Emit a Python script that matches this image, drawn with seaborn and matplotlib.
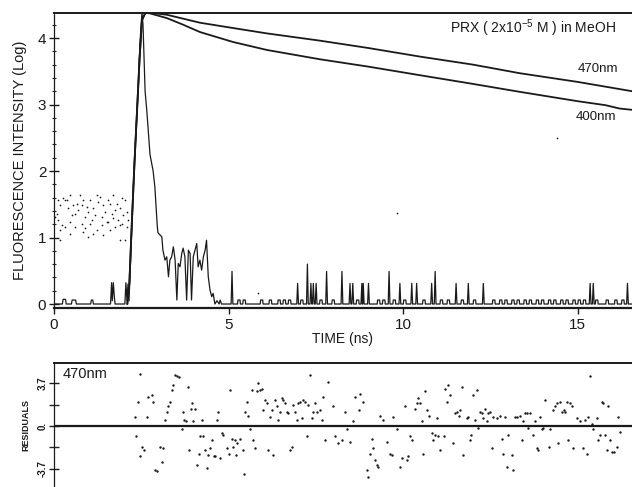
import numpy as np
import pandas as pd
import matplotlib
matplotlib.use("Agg")
import matplotlib.pyplot as plt
from matplotlib.ticker import MultipleLocator, FixedLocator
import seaborn as sns

# decay curves (log intensity vs time in ns)
t_470 = [2.10, 2.16, 2.23, 2.31, 2.45, 2.52, 2.62, 2.75, 3.23, 4.18, 5.13, 6.09, 7.62, 9.00,
         10.49, 12.00, 13.35, 15.00, 16.56]
i_470 = [0.00, 0.32, 1.22, 2.17, 3.67, 4.27, 4.38, 4.38, 4.35, 4.23, 4.15, 4.07, 3.96, 3.85,
         3.72, 3.60, 3.47, 3.34, 3.20]
t_400 = [2.10, 2.16, 2.23, 2.31, 2.45, 2.52, 2.62, 2.75, 3.23, 3.70, 4.18, 5.13, 6.10, 7.62,
         9.00, 10.49, 12.00, 13.35, 15.00, 15.80, 16.20, 16.56]
i_400 = [0.00, 0.32, 1.22, 2.17, 3.67, 4.27, 4.38, 4.37, 4.30, 4.20, 4.09, 3.94, 3.82, 3.68,
         3.57, 3.44, 3.31, 3.19, 3.05, 2.99, 2.94, 2.92]

# instrument response (pulse + noise)
irf_t = [0.0, 0.24, 0.26, 0.33, 0.35, 0.50, 0.52, 0.62, 0.64, 1.05, 1.07, 1.11, 1.13,
         1.62, 1.65, 1.67, 1.70, 1.73, 1.75, 2.03, 2.06, 2.09, 2.12, 2.15, 2.21, 2.26,
         2.32, 2.41, 2.46, 2.52, 2.55, 2.61, 2.66, 2.75, 2.84, 2.89, 2.96, 2.98, 3.09,
         3.12, 3.18, 3.23, 3.28, 3.32, 3.37, 3.42, 3.47, 3.52, 3.56, 3.61, 3.66, 3.70,
         3.75, 3.80, 3.85, 3.90, 3.94, 3.99, 4.04, 4.09, 4.13, 4.18, 4.23, 4.28, 4.33,
         4.37, 4.42, 4.47, 4.52, 4.56, 4.61, 4.67, 4.73, 4.76, 4.80]
irf_i = [0, 0, 0.07, 0.07, 0, 0, 0.06, 0.06, 0, 0, 0.06, 0.06, 0,
         0, 0.32, 0.05, 0.32, 0.1, 0, 0, 0.32, 0.05, 0.3, 0.05, 0.9, 1.6,
         2.3, 3.2, 3.9, 4.38, 4.2, 3.2, 2.9, 2.25, 2.0, 1.76, 1.16, 1.07, 1.01,
         0.81, 0.66, 0.71, 0.41, 0.66, 0.71, 0.86, 0.66, 0.06, 0.61, 0.56, 0.76, 0.84,
         0.71, 0.06, 0.81, 0.76, 0.06, 0.71, 0.81, 0.91, 0.56, 0.66, 0.51, 0.71, 0.81,
         0.96, 0.41, 0.21, 0.11, 0.16, 0.0, 0.05, 0.0, 0.06, 0.0]
spike_t = [5.10, 6.98, 7.26, 7.36, 7.43, 7.51, 7.81, 8.25, 8.48, 8.56, 8.82, 8.86, 9.01,
           9.60, 9.91, 10.25, 10.39, 10.82, 10.92, 11.52, 11.87, 12.30, 15.36, 15.45, 16.43]
spike_h = [0.49, 0.31, 0.60, 0.31, 0.31, 0.31, 0.49, 0.49, 0.31, 0.31, 0.31, 0.31, 0.31,
           0.49, 0.31, 0.31, 0.31, 0.31, 0.49, 0.31, 0.31, 0.31, 0.31, 0.31, 0.31]
bump_t = [5.30, 5.45, 5.95, 6.20, 6.45, 6.60, 6.75, 7.10, 7.65, 8.00, 8.70, 9.30, 9.45,
          9.75, 10.05, 10.60, 11.10, 11.30, 11.70, 12.05, 12.60, 12.80, 12.95, 13.15,
          13.30, 13.50, 13.65, 13.85, 14.00, 14.20, 14.35, 14.55, 14.70, 14.90, 15.05,
          15.20, 15.55, 15.85, 16.10, 16.30]

# dotted band at the left of the decay panel
dots_t = [0.12, 0.17, 0.27, 0.32, 0.36, 0.41, 0.46, 0.55, 0.60, 0.65, 0.70, 0.74, 0.79,
          0.84, 0.89, 0.94, 0.98, 1.03, 1.08, 1.13, 1.22, 1.27, 1.32, 1.37, 1.41, 1.46,
          1.51, 1.56, 1.60, 1.65, 1.70, 1.75, 1.80, 1.84, 1.89, 1.94, 1.99, 2.03, 2.08,
          2.13, 0.08, 0.12, 0.22, 0.32, 0.46, 0.60, 0.79, 0.89, 1.03, 1.22, 1.37, 1.56,
          1.75, 1.94, 2.08, 0.17, 0.46, 0.84, 1.13, 1.60, 1.89, 0.98, 1.41, 2.03, 1.89,
          0.17, 0.03, 0.51, 1.17, 1.70, 5.85, 9.82, 14.40]
dots_i = [1.56, 1.49, 1.59, 1.56, 1.57, 1.44, 1.64, 1.49, 1.36, 1.51, 1.41, 1.64, 1.49,
          1.56, 1.31, 1.46, 1.39, 1.56, 1.26, 1.44, 1.64, 1.54, 1.61, 1.31, 1.49, 1.39,
          1.24, 1.56, 1.51, 1.36, 1.64, 1.41, 1.51, 1.26, 1.44, 1.59, 1.34, 1.56, 1.39,
          1.26, 1.36, 1.26, 1.19, 1.16, 1.24, 1.16, 1.21, 1.14, 1.21, 1.11, 1.19, 1.24,
          1.16, 1.21, 1.16, 1.11, 1.06, 1.09, 1.06, 1.11, 1.19, 1.01, 1.04, 0.96, 0.96,
          0.96, 1.31, 1.34, 1.34, 1.29, 0.17, 1.37, 2.50]

# weighted residuals, 470 nm fit
res_t = [2.32, 2.35, 2.42, 2.45, 2.51, 2.58, 2.46, 2.66, 2.70, 2.80, 2.85, 2.89, 2.94, 3.04,
         3.10, 3.13, 3.18, 3.23, 3.28, 3.32, 3.37, 3.42, 3.47, 3.51, 3.59, 3.66, 3.69, 3.73,
         3.78, 3.85, 3.88, 3.92, 3.94, 3.99, 4.04, 4.09, 4.14, 4.18, 4.23, 4.28, 4.33, 4.37,
         4.42, 4.47, 4.52, 4.57, 4.61, 4.66, 4.71, 4.76, 4.80, 4.85, 4.95, 5.00, 5.04, 5.09,
         5.14, 5.19, 5.21, 5.25, 5.33, 5.41, 5.44, 5.47, 5.52, 5.57, 5.62, 5.66, 5.71, 5.76,
         5.81, 5.85, 5.90, 5.95, 6.00, 6.05, 6.09, 6.14, 6.19, 6.24, 6.28, 6.33, 6.38, 6.43,
         6.48, 6.52, 6.57, 6.62, 6.67, 6.71, 6.76, 6.81, 6.86, 6.91, 6.95, 7.00, 7.05, 7.10,
         7.14, 7.19, 7.24, 7.29, 7.34, 7.38, 7.43, 7.48, 7.53,
         7.62, 7.67, 7.72, 7.77, 7.86, 7.98, 8.05, 8.15, 8.24, 8.34, 8.39, 8.48, 8.58, 8.62,
         8.75, 8.77, 8.86, 8.96, 9.01, 9.05, 9.10, 9.15, 9.20, 9.25, 9.29, 9.34, 9.44, 9.53,
         9.63, 9.68, 9.72, 9.82, 9.91, 9.96, 10.06, 10.11, 10.15, 10.20, 10.25, 10.34, 10.39,
         10.44, 10.49, 10.53, 10.58, 10.63, 10.68, 10.73, 10.82, 10.87, 10.92, 10.97, 11.01,
         11.06, 11.16, 11.20, 11.25, 11.30, 11.35, 11.44, 11.49, 11.54, 11.59, 11.63, 11.68,
         11.73, 11.82, 11.87, 11.92, 11.96, 12.01, 12.06, 12.11, 12.16, 12.21, 12.25, 12.30,
         12.35, 12.40, 12.44, 12.49, 12.54, 12.59, 12.68, 12.78, 12.83, 12.87, 12.92, 12.97,
         13.02, 13.11, 13.16, 13.21, 13.26, 13.35, 13.40, 13.45, 13.50, 13.54, 13.59, 13.64,
         13.73, 13.78, 13.83, 13.88, 13.93, 13.97, 14.02, 14.07, 14.17, 14.21, 14.31, 14.36,
         14.40, 14.45, 14.50, 14.55, 14.60, 14.64, 14.69, 14.74, 14.79, 14.83, 14.88, 14.98,
         15.07, 15.17, 15.21, 15.26, 15.31, 15.36, 15.41, 15.45, 15.55, 15.60, 15.64, 15.69,
         15.74, 15.79, 15.83, 15.88, 15.93, 15.98, 16.03, 16.12, 16.17, 16.22]
res_v = [0.8, -0.9, 2.1, -2.6, -1.8, -2.1, 4.5, 0.8, 2.5, 2.7, 2.1, -3.8, -3.9, -1.8,
         -3.1, -1.9, 0.5, 1.2, 1.7, 2.1, 3.1, 3.5, 4.4, 4.3, 4.2, -0.3, 1.2, 0.5,
         0.4, 3.4, -2.1, 1.5, 2.0, 0.4, 1.5, -3.4, -2.4, -0.9, 0.5, -0.9, -2.1, -3.6,
         -2.5, -1.9, -1.2, -2.6, -2.6, 0.5, 1.2, -2.8, -0.6, -0.8, -1.9, -2.4, 3.1, -1.1,
         -1.8, -1.2, -2.5, -1.5, -1.1, -2.1, -4.1, 1.2, 2.1, 0.9, -0.3, 3.1, -1.2, -1.9,
         3.0, 3.7, 3.1, 3.2, 1.4, 2.2, 2.0, -2.1, 0.8, 1.4, -2.5, 2.2, 1.7, 0.5,
         1.2, 2.4, 2.2, 2.0, 1.2, 1.1, -2.1, -1.8, 1.8, 1.2, 0.5, 2.0, 2.1, 0.7,
         2.2, 2.1, -0.9, 1.8, 4.4, 0.7, 1.2, 2.0, 1.2,
         1.4, 0.5, 2.5, -1.2, 3.8, 1.7, -0.9, -1.5, -1.2, 1.2, -0.3, -1.4, 0.4, 2.5,
         1.4, 2.8, 2.1, -3.8, -4.4, -2.4, -1.1, -1.9, -2.9, -3.4, -3.5, 0.9, 0.5, -1.4,
         -2.4, -2.5, 0.8, -0.3, -3.5, -2.8, 1.7, -2.9, -2.6, -0.9, -1.2, 1.5, 2.0,
         2.4, 2.0, 0.4, -2.4, 3.0, 1.4, 0.9, -0.6, -1.2, -0.8, 0.7, -0.9,
         -2.1, -0.9, 3.2, 2.1, 3.5, 2.7, -1.5, 1.1, 1.2, 0.9, 1.4, 3.4,
         -2.5, 0.7, 0.8, -1.2, -0.8, 2.7, 0.5, 3.1, -0.2, 1.2, 1.1, 0.7,
         1.5, 0.4, 1.1, 1.2, -1.9, 0.8, 0.7, 0.9, -1.1, -2.4, 0.8, -3.5,
         -0.8, -2.5, -3.8, 0.8, 0.8, 0.9, -1.2, 0.4, 1.1, 1.1, -0.2, 1.1,
         -0.8, 0.4, -1.9, -2.1, 0.8, -0.3, -0.2, 2.2, -1.8, -0.3, 1.4, 1.7,
         2.0, -1.5, 2.1, 1.2, 1.4, 1.2, 2.1, -1.2, 2.0, 1.7, -1.9, 0.7,
         0.4, -1.9, 0.5, -2.4, 0.8, 4.3, 0.2, -0.3, 0.7, -1.2, -0.8, 2.1,
         2.0, -0.8, -2.1, 1.7, -1.2, -2.2, -2.2, -1.8, 0.8, -0.5]

T_MAX = 16.56


def noise_trace():
    # pulse part plus the baseline with its counting spikes
    rows = list(zip(irf_t, irf_i))
    for t, h in zip(spike_t, spike_h):
        rows += [(t - 0.025, 0.0), (t, h), (t + 0.025, 0.0)]
    for t in bump_t:
        rows += [(t - 0.04, 0.0), (t - 0.03, 0.06), (t + 0.03, 0.06), (t + 0.04, 0.0)]
    rows.append((T_MAX, 0.0))
    df = pd.DataFrame(rows, columns=["t", "i"])
    return df.sort_values("t", kind="stable").reset_index(drop=True)


def main():
    sns.set_theme(style="ticks")
    plt.rcParams['font.family'] = ['Liberation Sans', 'DejaVu Sans']
    plt.rcParams['mathtext.fontset'] = 'custom'
    plt.rcParams['mathtext.rm'] = 'Liberation Sans'
    plt.rcParams['axes.unicode_minus'] = False

    fig = plt.figure(figsize=(6.32, 4.87), dpi=100)
    left = 54 / 632
    ax = fig.add_axes([left, 1 - 308 / 487, 1 - left, (308 - 13) / 487])
    ax2 = fig.add_axes([left, 0, 1 - left, (487 - 363) / 487])

    # top panel: decays
    sns.lineplot(x=t_470, y=i_470, ax=ax, color='k', lw=1.3, estimator=None, sort=False)
    sns.lineplot(x=t_400, y=i_400, ax=ax, color='k', lw=1.3, estimator=None, sort=False)
    irf = noise_trace()
    sns.lineplot(data=irf, x="t", y="i", ax=ax, color='k', lw=0.9, estimator=None, sort=False)
    sns.scatterplot(x=dots_t, y=dots_i, ax=ax, color='k', s=1.5, linewidth=0)

    ax.set_xlim(0, T_MAX)
    ax.set_ylim(-0.06, 4.376)
    ax.yaxis.set_major_locator(FixedLocator([0, 1, 2, 3, 4]))
    ax.yaxis.set_minor_locator(MultipleLocator(0.2))
    ax.xaxis.set_major_locator(FixedLocator([0, 5, 10, 15]))
    ax.tick_params(axis='y', which='major', direction='inout', length=7, width=1,
                   labelsize=11, pad=2, colors='k')
    ax.tick_params(axis='y', which='minor', direction='inout', length=3, width=0.8)
    ax.tick_params(axis='x', which='major', direction='out', length=4, width=1,
                   labelsize=11, pad=3, colors='k')
    ax.set_xlabel("TIME (ns)", fontsize=10, labelpad=0, color='k')
    ax.set_ylabel("FLUORESCENCE INTENSITY (Log)", fontsize=10.5, labelpad=8, color='k')
    for side in ['top', 'left', 'bottom']:
        ax.spines[side].set_color('k')
    ax.spines['top'].set_linewidth(1.4)
    ax.spines['bottom'].set_linewidth(1.6)
    ax.spines['left'].set_linewidth(0.9)
    ax.spines['left'].set_linestyle((0, (3, 1)))
    ax.spines['right'].set_visible(False)

    ax.text(13.72, 4.15, r"PRX ( 2x10$^{-5}$ M ) in MeOH", fontsize=10, ha='center',
            va='center', color='k')
    ax.text(15.59, 3.53, "470nm", fontsize=9.5, ha='center', va='center', color='k')
    ax.text(15.53, 2.81, "400nm", fontsize=9.5, ha='center', va='center', color='k')

    # bottom panel: residuals
    sns.scatterplot(x=res_t, y=res_v, ax=ax2, color='k', s=3, linewidth=0)
    ax2.axhline(0, color='k', lw=1.6)
    ax2.set_xlim(0, T_MAX)
    ax2.set_ylim(-5.26, 5.43)
    ax2.yaxis.set_major_locator(FixedLocator([-3.7, 0, 3.7]))
    ax2.yaxis.set_minor_locator(FixedLocator([-1.85, 1.85]))
    ax2.set_yticklabels(["-3.7", "0.", "3.7"], rotation=90, va='center', fontsize=7,
                        fontweight='bold')
    ax2.tick_params(axis='y', which='major', direction='inout', length=7, width=1,
                    pad=1, colors='k')
    ax2.tick_params(axis='y', which='minor', direction='inout', length=7, width=1)
    ax2.set_xticks([])
    ax2.set_ylabel("RESIDUALS", fontsize=6.5, fontweight='bold', labelpad=5, color='k')
    ax2.spines['top'].set_color('k')
    ax2.spines['top'].set_linewidth(1.4)
    ax2.spines['left'].set_color('k')
    ax2.spines['left'].set_linewidth(0.9)
    ax2.spines['left'].set_linestyle((0, (3, 1)))
    ax2.spines['right'].set_visible(False)
    ax2.spines['bottom'].set_visible(False)
    ax2.text(0.25, 4.5, "470nm", fontsize=10.5, ha='left', va='center', color='k')

    fig.savefig("out.png", dpi=100)


if __name__ == "__main__":
    main()
